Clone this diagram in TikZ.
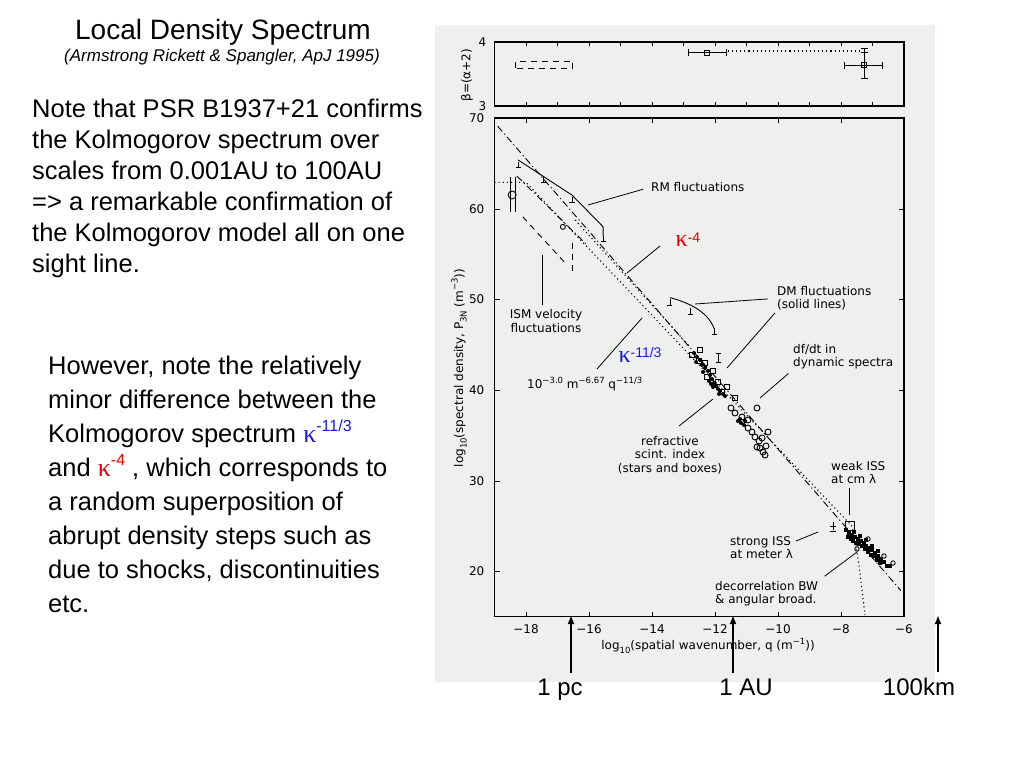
\documentclass[tikz,border=0pt]{standalone}
\usepackage{fontspec}
\setmainfont{Liberation Sans}
\newfontfamily\plotfont{DejaVu Sans}
\newfontfamily\kapfont{Liberation Serif}
\usetikzlibrary{arrows.meta}

\definecolor{scanbg}{RGB}{237,240,237}
\definecolor{kapred}{RGB}{230,0,0}
\definecolor{kapblue}{RGB}{25,25,225}

% kappa with a power: colour, kappa size, power size, power
\newcommand{\kapsup}[4]{{\color{#1}{\kapfont\fontsize{#2}{#2}\selectfont κ}\raisebox{0.42em}{\fontsize{#3}{#3}\selectfont #4}}}
\newcommand{\psup}[1]{\raisebox{0.45em}{\fontsize{8.5}{8.5}\selectfont #1}}
\newcommand{\psub}[1]{\raisebox{-0.3em}{\fontsize{8.5}{8.5}\selectfont #1}}

\begin{document}
\begin{tikzpicture}[x=1pt, y=-1pt, >={Latex[length=9pt,width=7pt]},
  slide/.style={font=\fontsize{25.5}{31}\selectfont, anchor=base west, inner sep=0pt},
  marklab/.style={font=\fontsize{24}{24}\selectfont, anchor=base, inner sep=0pt},
  plottext/.style={font=\plotfont\fontsize{12}{13.5}\selectfont, inner sep=0pt, align=left},
  ticklab/.style={font=\plotfont\fontsize{12}{12}\selectfont, inner sep=0pt},
  frame/.style={line width=1.2pt},
  curve/.style={line width=0.9pt},
  ptr/.style={line width=0.8pt},
  dashdot/.style={line width=0.9pt, dash pattern=on 7pt off 3pt on 1.2pt off 3pt},
  dotline/.style={line width=1.1pt, dash pattern=on 1.1pt off 3pt},
  dashline/.style={line width=0.9pt, dash pattern=on 6pt off 5pt}]
  \useasboundingbox (0,0) rectangle (1024,768);
  \fill[scanbg] (435,25) rectangle (935,682);

  % slide text
  \node (title) at (223,40) [font=\fontsize{28}{30}\selectfont, anchor=base, inner sep=0pt] {Local Density Spectrum};
  \node (cite) at (222,61) [font=\fontsize{17}{20}\selectfont\itshape, anchor=base, inner sep=0pt] {(Armstrong Rickett \& Spangler, ApJ 1995)};
  \foreach \t [count=\i] in {Note that PSR B1937+21 confirms, the Kolmogorov spectrum over,
      scales from 0.001AU to 100AU, => a remarkable confirmation of,
      the Kolmogorov model all on one, sight line.}
    \node (note\i) at (32,117+31*\i-31) [slide] {\t};
  \foreach \t [count=\i] in {{However, note the relatively}, minor difference between the,
      {Kolmogorov spectrum \kapsup{kapblue}{26}{16}{-11/3}},
      {and \kapsup{kapred}{26}{16}{-4} , which corresponds to},
      a random superposition of, abrupt density steps such as,
      {due to shocks, discontinuities}, etc.}
    \node (however\i) at (48,374+34*\i-34) [slide] {\t};

  % upper panel, beta against q
  \begin{scope}[xshift=1093pt, yshift=-298pt, x=31.5pt, y=64pt]
    \draw[frame] (-19,3) rectangle (-6,4);
    \foreach \q in {-18,...,-7} {
      \draw (\q,3) -- ++(0pt,4pt);
      \draw (\q,4) -- ++(0pt,-4pt);
    }
    \node (b4) at (-19,4) [ticklab, anchor=east, xshift=-8pt] {4};
    \node (b3) at (-19,3) [ticklab, anchor=east, xshift=-8pt] {3};
    \node (betalab) at (-19.87,3.48) [ticklab, rotate=90] {β=(α+2)};
    \draw[dashline] (-18.32,3.59) rectangle (-16.51,3.70);
    \draw[curve] (-12.83,3.83) -- (-11.65,3.83);
    \draw[curve] (-12.83,3.83) ++(0pt,-3.5pt) -- ++(0pt,7pt);
    \draw[curve] (-11.65,3.83) ++(0pt,-3.5pt) -- ++(0pt,7pt);
    \draw[curve] (-12.25,3.83) ++(-2.5pt,-2.5pt) rectangle ++(5pt,5pt);
    \draw[dotline] (-11.59,3.86) -- (-7.30,3.86);
    \draw[curve] (-7.90,3.64) -- (-6.67,3.64);
    \draw[curve] (-7.90,3.64) ++(0pt,-3.5pt) -- ++(0pt,7pt);
    \draw[curve] (-6.67,3.64) ++(0pt,-3.5pt) -- ++(0pt,7pt);
    \draw[curve] (-7.27,3.906) -- (-7.27,3.4375);
    \foreach \b in {3.906,3.833,3.4375}
      \draw[curve] (-7.27,\b) ++(-3.5pt,0pt) -- ++(7pt,0pt);
    \draw[curve] (-7.27,3.64) ++(-2.5pt,-2.5pt) rectangle ++(5pt,5pt);
  \end{scope}

  % main panel, spectral density against q
  \begin{scope}[xshift=1093pt, yshift=-752.9pt, x=31.5pt, y=9.07pt]
    \draw[frame] (-19,15) rectangle (-6,70);
    \foreach \q in {-18,-16,...,-8} {
      \draw (\q,15) -- ++(0pt,5pt);
      \draw (\q,70) -- ++(0pt,-5pt);
    }
    \foreach \q [evaluate=\q as \a using int(-\q)] in {-18,-16,...,-6}
      \node (xt\a) at (\q,13.66) [ticklab] {−\a};
    \foreach \p in {20,30,...,60} {
      \draw (-19,\p) -- ++(5pt,0pt);
      \draw (-6,\p) -- ++(-5pt,0pt);
    }
    \foreach \p in {20,30,...,70}
      \node (yt\p) at (-19,\p) [ticklab, anchor=east, xshift=-10pt] {\p};
    % power laws
    \draw[dashdot] (-18.9,69.1) -- (-6.1,17.9);
    \draw[dotline] (-19,62.9) -- (-18,62.9) -- (-7.65,25.0) .. controls (-7.5,23.0) and (-7.4,20.0) .. (-7.24,15.2);
    \draw[dotline] (-16.44,58.75) -- (-12.79,44.75);
    % ISM velocity
    \draw[dashdot] (-18.29,63.6) -- (-16.06,56.0);
    \draw[curve] (-16.83,58.0) circle [radius=2.5pt];
    \draw[dashline] (-18.1,59.1) -- (-16.7,53.8);
    \draw[dashline] (-16.51,56.2) -- (-16.51,53.0);
    \draw[curve] (-18.44,61.51) circle [radius=4pt];
    \draw[curve] (-18.49,63.5) -- (-18.49,59.64) (-18.35,63.5) -- (-18.35,59.64);
    % RM
    \draw[curve] (-18.25,65.37) -- (-16.54,61.5) -- (-15.55,58.0) -- (-15.55,57.0);
    \foreach \q/\p in {-18.25/65.2, -17.46/63.6, -16.54/61.3, -15.55/57.0}
      \draw[curve] (\q,\p) -- ++(0pt,-6pt) ++(-2.5pt,0pt) -- ++(5pt,0pt);
    % DM
    \draw[curve] (-13.43,50.2) .. controls (-12.9,49.7) and (-12.25,48.8) .. (-12.03,46.8);
    \foreach \q/\p in {-13.43/50.0, -12.79/49.0, -12.03/46.8}
      \draw[curve] (\q,\p) -- ++(0pt,-6pt) ++(-2.5pt,0pt) -- ++(5pt,0pt);
  \end{scope}

  % refractive and dynamic spectra data
  \foreach \x/\y in {692/355, 699/361, 705/363, 707/377, 713/371, 722/392, 735/398, 700/350, 718/382, 727/387}
    \draw[curve] (\x,\y) ++(-2.5,-2.5) rectangle ++(5,5);
  \foreach \x/\y in {694/353, 697/357, 700/360, 702/365, 705/368, 708/371, 710/375, 712/379, 714/383,
      716/386, 718/389, 720/391, 723/394, 725/396, 741/423, 744/425, 738/421, 713/387, 709/381,
      696/362, 703/372, 711/384, 719/394, 740/419, 745/421}
    \fill (\x,\y) circle [radius=2pt];
  \foreach \x/\y in {731/408, 742/417, 748/420, 752/432, 755/437, 759/441, 762/438, 766/446,
      765/455, 735/413, 748/428, 760/448, 768/432, 757/408, 757/447, 763/452}
    \draw[curve] (\x,\y) circle [radius=3pt];
  \draw[curve] (718,353) -- (718,362) (715.5,353) -- (720.5,353) (715.5,362) -- (720.5,362);

  % scintillation data
  \draw[curve] (845.5,521.5) rectangle (854.5,530.5);
  \foreach \x/\y in {846/530, 849/533, 852/535, 855/537, 858/539, 861/541, 864/543, 866/546, 869/548,
      872/550, 875/553, 878/556, 881/559, 884/562, 851/539, 856/543, 862/546, 868/552, 874/556,
      880/563, 887/566, 890/566, 848/537, 853/541, 859/544, 865/549, 871/555, 877/560, 854/532,
      860/536, 866/540, 872/546, 878/551}
    \fill (\x,\y) ++(-2.4,-2.4) rectangle ++(4.8,4.8);
  \foreach \x/\y in {857/549, 868/539, 884/556, 893/563}
    \draw[curve] (\x,\y) circle [radius=2.2pt];
  \draw[curve] (833,522) -- (833,530) (830,526) -- (836,526) (830,531) -- (836,531);

  % axis titles
  \node (xlab) at (708,646) [plottext] {log\psub{10}(spatial wavenumber, q (m\psup{−1}))};
  \node (ylab) at (459,368) [plottext, rotate=90] {log\psub{10}(spectral density, P\psub{3N} (m\psup{−3}))};

  % annotations
  \node (rmlab) at (651,187) [plottext, anchor=west] {RM fluctuations};
  \coordinate (rmtip) at (588,205);
  \draw[ptr, shorten <=8pt] (rmlab.west) -- (rmtip);

  \node (ismlab) at (546,321) [plottext, align=center] {ISM velocity\\fluctuations};
  \coordinate (ismtip) at (542,255);
  \draw[ptr, shorten <=4pt] (ismtip |- ismlab.north) -- (ismtip);

  \node (k4lab) at (688,240) [inner sep=0pt] {\kapsup{kapred}{24}{14}{-4}};
  \coordinate (k4from) at (660,246);
  \coordinate (k4pt) at (627,273);
  \draw[ptr] (k4from) -- (k4pt);

  \node (k113lab) at (640,355) [inner sep=0pt] {\kapsup{kapblue}{24}{14}{-11/3}};

  \node (kollab) at (527,384) [plottext, anchor=west] {10\psup{−3.0} m\psup{−6.67} q\psup{−11/3}};
  \coordinate (kolfrom) at (597,369);
  \coordinate (kolpt) at (642,318);
  \draw[ptr] (kolfrom) -- (kolpt);

  \node (dmlab) at (777,286) [plottext, anchor=north west] {DM fluctuations\\(solid lines)};
  \coordinate (dmtipA) at (695,304);
  \coordinate (dmtipB) at (727,368);
  \draw[ptr, shorten <=9pt] (dmlab.west) -- (dmtipA);
  \draw[ptr, shorten <=3pt] (dmlab.south west) -- (dmtipB);

  \node (dflab) at (793,344) [plottext, anchor=north west] {df/dt in\\dynamic spectra};
  \coordinate (dftip) at (760,398);
  \draw[ptr, shorten <=6pt] (dflab.south west) -- (dftip);

  \node (reflab) at (670,455) [plottext, align=center] {refractive\\scint. index\\(stars and boxes)};
  \coordinate (reffrom) at (679,426);
  \coordinate (reftip) at (713,399);
  \draw[ptr] (reffrom) -- (reftip);

  \node (weaklab) at (831,461) [plottext, anchor=north west] {weak ISS\\at cm λ};
  \coordinate (weaktip) at (849,515);
  \draw[ptr, shorten <=4pt] (weaktip |- weaklab.south) -- (weaktip);

  \node (stronglab) at (730,536) [plottext, anchor=north west] {strong ISS\\at meter λ};
  \coordinate (strongfrom) at (796,541);
  \coordinate (strongtip) at (818,532);
  \draw[ptr] (strongfrom) -- (strongtip);

  \node (declab) at (715,581) [plottext, anchor=north west] {decorrelation BW\\\& angular broad.};
  \coordinate (dectip) at (857,552);
  \draw[ptr, shorten <=8pt] (declab.north east) -- (dectip);

  % length scales
  \node (pc) at (560,695) [marklab] {1 pc};
  \node (au) at (746,695) [marklab] {1 AU};
  \node (km) at (919,695) [marklab] {100km};
  \coordinate (pcTip) at (571,615);
  \coordinate (auTip) at (733,615);
  \coordinate (kmTip) at (938,615);
  \draw[line width=1.8pt, ->, shorten <=5pt] (pc.north -| pcTip) -- (pcTip);
  \draw[line width=1.8pt, ->, shorten <=5pt] (au.north -| auTip) -- (auTip);
  \draw[line width=1.8pt, ->, shorten <=5pt] (km.north -| kmTip) -- (kmTip);
\end{tikzpicture}
\end{document}
